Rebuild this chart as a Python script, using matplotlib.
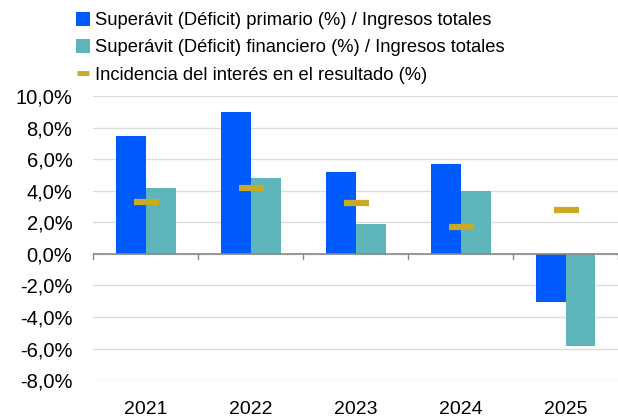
import matplotlib
matplotlib.use('Agg')
import matplotlib.pyplot as plt
import numpy as np
from matplotlib.ticker import FuncFormatter
from matplotlib.lines import Line2D

plt.rcParams['font.family'] = ['Liberation Sans', 'DejaVu Sans']

years = ['2021', '2022', '2023', '2024', '2025']
primario = [7.45, 9.0, 5.17, 5.72, -3.04]
financiero = [4.16, 4.79, 1.9, 4.0, -5.82]
interes = [3.27, 4.2, 3.25, 1.73, 2.78]

labels = ['Superávit (Déficit) primario (%) / Ingresos totales',
          'Superávit (Déficit) financiero (%) / Ingresos totales',
          'Incidencia del interés en el resultado (%)']

blue = '#005BFF'
teal = '#5EB5BA'
gold = '#C9AA22'

fig = plt.figure(figsize=(6.18, 4.2), dpi=100)
ax = fig.add_axes([0.151, 0.095, 0.849, 0.676])

x = np.arange(len(years))
w = 0.285
b1 = ax.bar(x - w/2, primario, w, color=blue, zorder=3)
b2 = ax.bar(x + w/2, financiero, w, color=teal, zorder=3)
ax.plot(x, interes, ls='none', marker='_', markersize=18, mew=4.5, color=gold, zorder=4)

ax.set_ylim(-8, 10)
ax.set_xlim(-0.5, 4.5)
ax.set_yticks(np.arange(-8, 11, 2))
ax.yaxis.set_major_formatter(FuncFormatter(lambda v, p: f'{v:.1f}%'.replace('.', ',')))
ax.grid(axis='y', color='#dcdcdc', lw=1, zorder=0)
ax.axhline(0, color='#888888', lw=1.2, zorder=5)

ax.set_xticks(x)
ax.set_xticklabels(years)
ax.tick_params(axis='x', length=0, labelsize=14, pad=15)
ax.tick_params(axis='y', length=0, labelsize=14.5, pad=15)
for s in ax.spines.values():
    s.set_visible(False)

# small tick marks at category borders on the zero line
for b in np.arange(-0.5, 5, 1):
    ax.plot([b, b], [0, -0.35], color='#888888', lw=1, zorder=5, clip_on=False)

gold_handle = Line2D([], [], ls='none', marker='_', markersize=9, mew=3.5, color=gold)
fig.legend([b1, b2, gold_handle], labels, loc='upper left', bbox_to_anchor=(0.108, 0.993),
           frameon=False, fontsize=13.2, handlelength=0.75, handleheight=0.75,
           handletextpad=0.3, labelspacing=0.55, borderaxespad=0.1)

plt.savefig('out.png', dpi=100)
